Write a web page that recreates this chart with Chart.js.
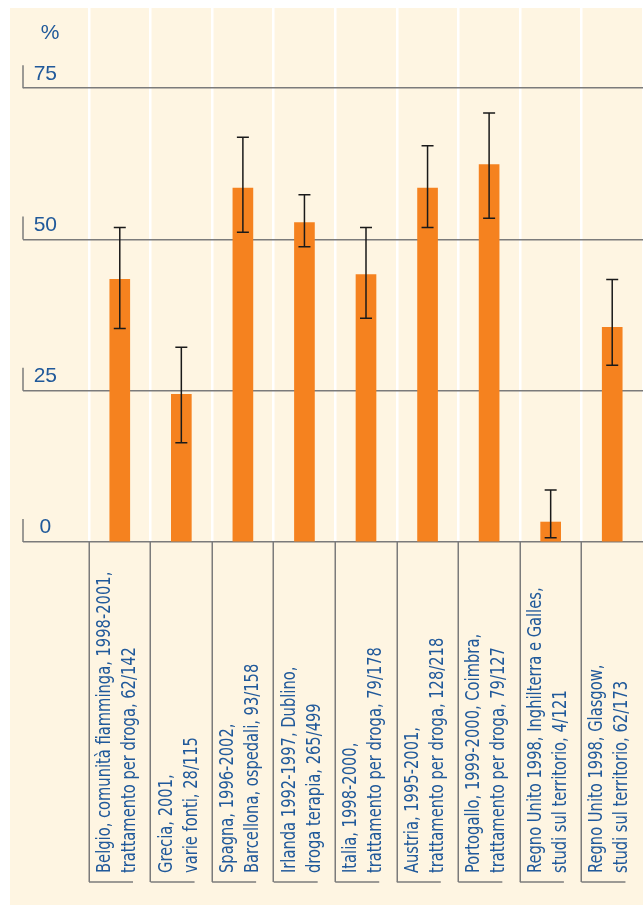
<!DOCTYPE html>
<html>
<head>
<meta charset="utf-8">
<script src="https://cdn.jsdelivr.net/npm/chart.js@4.4.1/dist/chart.umd.min.js"></script>
<style>
  html, body { margin: 0; padding: 0; background: #fff; }
  #wrap { position: absolute; left: 10px; top: 8px; width: 633px; height: 897px; background: #fef5e2; }
</style>
</head>
<body>
<div id="wrap"><canvas id="chart"></canvas></div>
<script>
// Data
const categories = [
  ['Belgio, comunità fiamminga, 1998-2001,', 'trattamento per droga, 62/142'],
  ['Grecia, 2001,', 'varie fonti, 28/115'],
  ['Spagna, 1996-2002,', 'Barcellona, ospedali, 93/158'],
  ['Irlanda 1992-1997, Dublino,', 'droga terapia, 265/499'],
  ['Italia, 1998-2000,', 'trattamento per droga, 79/178'],
  ['Austria, 1995-2001,', 'trattamento per droga, 128/218'],
  ['Portogallo, 1999-2000, Coimbra,', 'trattamento per droga, 79/127'],
  ['Regno Unito 1998, Inghilterra e Galles,', 'studi sul territorio, 4/121'],
  ['Regno Unito 1998, Glasgow,', 'studi sul territorio, 62/173']
];
const values = [43.4, 24.4, 58.5, 52.8, 44.2, 58.5, 62.4, 3.3, 35.5];
const errLow = [35.3, 16.4, 51.2, 48.8, 37.0, 52.0, 53.5, 0.7, 29.2];
const errHigh = [52.0, 32.2, 66.9, 57.4, 52.0, 65.5, 70.9, 8.6, 43.4];
const yTicks = [0, 25, 50, 75];
const yUnit = '%';

// Styles
const ORANGE = '#f5821f';
const BLUE = '#20599a';
const GREY = '#7b7b7b';
const LABEL_FONT = '19px "DejaVu Sans Condensed", "Liberation Sans", sans-serif';
const LABEL_SQUEEZE = 0.86;
const X_TICK_LEN = 340;
const Y_TICK_LEN = 66;

const errorBars = {
  id: 'errorBars',
  afterDatasetsDraw(chart) {
    const { ctx, scales: { y } } = chart;
    const bars = chart.getDatasetMeta(0).data;
    ctx.save();
    ctx.strokeStyle = '#1a1a1a';
    ctx.lineWidth = 1.5;
    bars.forEach((bar, i) => {
      const top = y.getPixelForValue(errHigh[i]);
      const bottom = y.getPixelForValue(errLow[i]);
      ctx.beginPath();
      ctx.moveTo(bar.x, top);
      ctx.lineTo(bar.x, bottom);
      ctx.moveTo(bar.x - 6, top);
      ctx.lineTo(bar.x + 6, top);
      ctx.moveTo(bar.x - 6, bottom);
      ctx.lineTo(bar.x + 6, bottom);
      ctx.stroke();
    });
    ctx.restore();
  }
};

// small ticks, label boxes, rotated category labels, unit
const axisDecor = {
  id: 'axisDecor',
  afterDraw(chart) {
    const { ctx, scales: { x, y } } = chart;
    const colW = x.width / categories.length;
    const footY = x.top + X_TICK_LEN;
    ctx.save();
    ctx.strokeStyle = GREY;
    ctx.lineWidth = 1.5;

    y.ticks.forEach(t => {
      const py = y.getPixelForValue(t.value);
      const px = y.right - Y_TICK_LEN;
      ctx.beginPath();
      ctx.moveTo(px, py);
      ctx.lineTo(px, py - 23);
      ctx.stroke();
    });

    categories.forEach((c, i) => {
      const left = x.getPixelForValue(i) - colW / 2;
      ctx.beginPath();
      ctx.moveTo(left, footY);
      ctx.lineTo(left + 44, footY);
      ctx.stroke();
    });

    ctx.fillStyle = BLUE;
    ctx.font = LABEL_FONT;
    ctx.textAlign = 'left';
    ctx.textBaseline = 'alphabetic';
    categories.forEach((lines, i) => {
      const left = x.getPixelForValue(i) - colW / 2;
      lines.forEach((line, k) => {
        ctx.save();
        ctx.translate(left + 21 + 25 * k, footY - 9);
        ctx.rotate(-Math.PI / 2);
        ctx.scale(LABEL_SQUEEZE, 1);
        ctx.fillText(line, 0, 0);
        ctx.restore();
      });
    });

    ctx.font = '21px "Liberation Sans", sans-serif';
    ctx.textAlign = 'center';
    ctx.textBaseline = 'middle';
    ctx.fillText(yUnit, y.right - 39, chart.chartArea.top + 25);
    ctx.restore();
  }
};

new Chart(document.getElementById('chart'), {
  type: 'bar',
  data: {
    labels: categories,
    datasets: [{
      data: values,
      backgroundColor: ORANGE,
      barThickness: 20
    }]
  },
  options: {
    responsive: true,
    maintainAspectRatio: false,
    animation: false,
    layout: { padding: 0 },
    plugins: { legend: { display: false }, tooltip: { enabled: false } },
    scales: {
      x: {
        grid: {
          color: '#ffffff',
          lineWidth: 2.5,
          tickColor: c => c.type === 'tick' ? GREY : 'rgba(0,0,0,0)',
          tickWidth: 1.5,
          tickLength: X_TICK_LEN
        },
        border: { display: false },
        ticks: { display: false },
        afterFit: s => { s.height = 363; }
      },
      y: {
        min: 0,
        max: 88.26,
        afterBuildTicks: s => { s.ticks = yTicks.map(v => ({ value: v })); },
        grid: {
          color: GREY,
          lineWidth: 1.5,
          tickColor: GREY,
          tickWidth: 1.5,
          tickLength: Y_TICK_LEN
        },
        border: { display: false },
        ticks: {
          color: BLUE,
          font: { family: '"Liberation Sans", sans-serif', size: 21 },
          crossAlign: 'center',
          padding: -34,
          labelOffset: -14.5
        },
        afterFit: s => { s.width = 79; }
      }
    }
  },
  plugins: [errorBars, axisDecor]
});
</script>
</body>
</html>
